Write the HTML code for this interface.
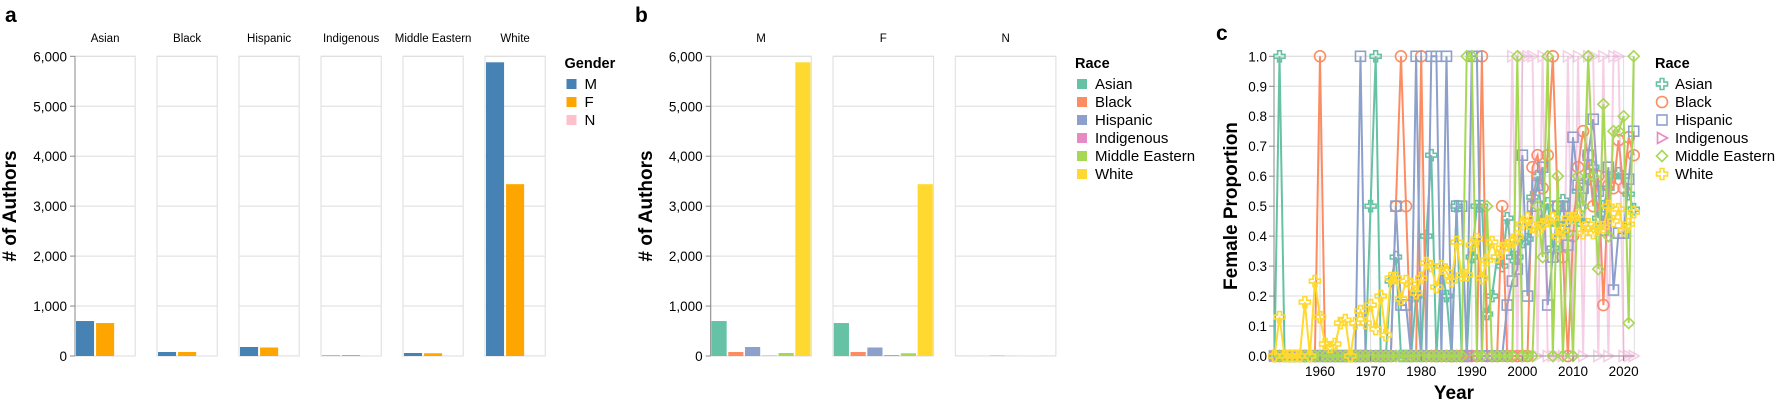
<!DOCTYPE html>
<html><head><meta charset="utf-8"><style>
html,body{margin:0;padding:0;background:#fff;}
svg{display:block;font-family:"Liberation Sans",sans-serif;}
</style></head><body>
<svg id="c" width="1787" height="408"></svg>
<script>
// Panel a data
const aRaces = ["Asian","Black","Hispanic","Indigenous","Middle Eastern","White"];
const aGenders = ["M","F","N"];
const aM = [700,80,180,10,60,5880];
const aF = [660,80,170,20,55,3440];
const aN = [2,2,8,2,2,8];
const countTicks = [0,1000,2000,3000,4000,5000,6000];
const countTickLabels = ["0","1,000","2,000","3,000","4,000","5,000","6,000"];
// Panel b data
const bGenders = ["M","F","N"];
const bAsian = [700,660,2];
const bBlack = [80,80,2];
const bHispanic = [180,170,8];
const bIndigenous = [10,20,2];
const bMiddleEastern = [60,55,2];
const bWhite = [5880,3440,8];
// Panel c data (years 1951..2022)
const cStartYear = 1951;
const cYearTicks = [1960,1970,1980,1990,2000,2010,2020];
const cPropTicks = [0,0.1,0.2,0.3,0.4,0.5,0.6,0.7,0.8,0.9,1.0];
const cAsian = [0,1,0,0,0,0,0,0,0,0, 0,0,0,0,0,0,0,0,0,.5, 1,0,0,.25,.33,0,0,0,.2,0, .4,.67,0,.3,.2,0,.5,0,0,.33, .5,.5,.14,.2,.33,.3,.46,.33,.33,.38, .39,.53,.6,.45,.51,.36,.44,.52,.45,.46, .55,.44,.59,.63,.46,.5,.56,.6,.61,.6, .54,.49];
const cBlack = [0,0,0,0,0,0,0,0,0,1, 0,0,0,0,0,0,0,0,0,0, 0,0,0,0,.5,1,.5,0,0,1, 0,0,0,0,0,0,0,0,0,0, 0,1,0,0,0,.5,0,0,0,0, 0,.63,.67,.56,.67,1,.5,.33,0,.4, .63,.75,.67,.5,.6,.17,.57,.56,.72,.56, .73,.67];
const cHispanic = [0,0,0,0,0,0,0,0,0,0, 0,0,0,0,0,0,0,1,0,0, 0,0,0,0,.5,.17,.17,0,1,0, 0,1,1,0,1,0,.5,.5,0,1, 1,0,0,0,0,0,.17,.25,.29,.67, .2,.5,.57,.63,.17,.33,.5,.5,.37,.73, .57,.56,.67,.79,.55,.42,.63,.22,.41,.41, .59,.75];
const cIndigenous = [0,0,0,0,0,0,0,0,0,0, 0,0,0,0,0,0,0,0,0,0, 0,0,0,0,0,0,0,0,0,0, 0,0,0,0,0,0,0,0,0,0, 0,0,0,0,0,0,0,1,0,1, 1,1,0,1,0,0,0,0,1,0, 1,0,1,1,0,1,0,1,1,0, 0,0];
const cMiddleEastern = [0,0,0,0,0,0,0,0,0,0, 0,0,0,0,0,0,0,0,0,0, 0,0,0,0,0,0,0,0,0,0, 0,0,0,0,0,0,0,0,1,1, 0,0,.5,0,0,0,0,0,1,0, 0,0,.5,.33,1,0,.6,0,.41,0, .6,.5,1,.6,.29,.84,.4,.75,.75,.8, .11,1];
const cWhite = [0,.13,0,0,0,0,.18,0,.25,.13, .04,.03,.04,.11,.12,0,.11,.15,.11,.17, .09,.2,.07,.26,.26,.19,.25,.24,.21,.26, .31,.3,.23,.3,.28,.25,.38,.27,.27,.37, .39,.26,.32,.38,.33,.36,.37,.38,.4,.44, .46,.43,.42,.44,.45,.46,.4,.42,.46,.46, .47,.41,.44,.41,.43,.43,.5,.45,.49,.42, .44,.48];

const NS="http://www.w3.org/2000/svg";
const svg=document.getElementById('c');
function mk(tag,attrs,parent,text){const e=document.createElementNS(NS,tag);for(const k in attrs)e.setAttribute(k,attrs[k]);if(text!==undefined)e.textContent=text;(parent||svg).appendChild(e);return e;}
const raceColors=["#66c2a5","#fc8d62","#8da0cb","#e78ac3","#a6d854","#ffd92f"];
const genderColors=["#4682b4","#ffa500","#ffc0cb"];
const Y0=356, Y1=56.3;
function yCount(v){return Y0-(v/6000)*(Y0-Y1);}

function panelLabel(t,x,y){const e=mk('text',{x:x,y:y,'font-size':21,'font-weight':'bold'},svg,t);

}
function yAxis(x,title,tx,name){
  countTicks.forEach((t,i)=>{const e=mk('text',{x:x-8,y:yCount(t)+5,'font-size':13.5,'text-anchor':'end',fill:'#000'},svg,countTickLabels[i]);
  
  
  mk('line',{x1:x-5,x2:x,y1:yCount(t),y2:yCount(t),stroke:'#888'});});
  const tt=mk('text',{x:tx,y:206,'font-size':19,'font-weight':'bold','text-anchor':'middle',transform:`rotate(-90 ${tx} 206)`},svg,title);
  
  
}
function facetFrame(x,w,title,name){
  const g=mk('g',{});
  
  
  countTicks.forEach(t=>mk('line',{x1:x,x2:x+w,y1:yCount(t),y2:yCount(t),stroke:'#ddd','stroke-width':1},g));
  mk('rect',{x:x,y:Y1,width:w,height:Y0-Y1,fill:'none',stroke:'#ddd','stroke-width':1},g);
  const t=mk('text',{x:x+w/2,y:42,'font-size':11.5,'text-anchor':'middle'},g,title);
  
  
  return g;
}
function legend(x,y,title,labels,colors,name,shape){
  const g=mk('g',{});
  
  
  mk('text',{x:x,y:y,'font-size':14.5,'font-weight':'bold'},g,title);
  labels.forEach((l,i)=>{const cy=y+21+i*18;
    const e=mk('g',{},g);
    
    
    if(shape) shape(i,x+7,cy-5,e); else mk('rect',{x:x+2,y:cy-10,width:10,height:10,fill:colors[i]},e);
    mk('text',{x:x+20,y:cy,'font-size':15},e,l);});
}

// Panel a
panelLabel('a',5,22);
const aX0=75, aW=60.2, aStep=82;
const aSeries=[aM,aF,aN];
aRaces.forEach((r,i)=>{
  const x=aX0+i*aStep;
  const g=facetFrame(x,aW,r,'facet-a-'+r.toLowerCase().replace(/ /g,'-'));
  const bw=aW/3;
  aSeries.forEach((s,j)=>{const y=yCount(s[i]);
    const b=mk('rect',{x:x+j*bw+1,y:y,width:bw-2,height:Y0-y,fill:genderColors[j]},g);
    
    });
});
mk('line',{x1:aX0,x2:aX0,y1:Y1,y2:Y0,stroke:'#888'});
yAxis(aX0,'# of Authors',16,'a-y-axis');
legend(564.5,68,'Gender',aGenders,genderColors,'gender-legend');

// Panel b
panelLabel('b',635,22);
const bX0=710.7,bW=100.6,bStep=122.3;
const bSeries=[bAsian,bBlack,bHispanic,bIndigenous,bMiddleEastern,bWhite];
bGenders.forEach((gname,i)=>{
  const x=bX0+i*bStep;
  const g=facetFrame(x,bW,gname,'facet-b-'+gname);
  const bw=bW/6;
  bSeries.forEach((s,j)=>{const y=yCount(s[i]);
    const b=mk('rect',{x:x+j*bw+0.8,y:y,width:bw-1.6,height:Y0-y,fill:raceColors[j]},g);
    
    });
});
mk('line',{x1:bX0,x2:bX0,y1:Y1,y2:Y0,stroke:'#888'});
yAxis(bX0,'# of Authors',652,'b-y-axis');
legend(1075,68,'Race',aRaces,raceColors,'race-legend-b');

// Panel c
panelLabel('c',1216,40);
const cxL=1274, cxR=1634.3;
function xYear(yr){return 1320+(yr-1960)*5.06;}
function yProp(v){return Y0-v*(Y0-56.3);}
const cg=mk('g',{});


cPropTicks.forEach(t=>mk('line',{x1:cxL,x2:cxR,y1:yProp(t),y2:yProp(t),stroke:'#ddd'},cg));
cYearTicks.forEach(t=>mk('line',{x1:xYear(t),x2:xYear(t),y1:56.3,y2:Y0,stroke:'#ddd'},cg));
mk('rect',{x:cxL,y:56.3,width:cxR-cxL,height:Y0-56.3,fill:'none',stroke:'#ddd'},cg);
mk('line',{x1:cxL,x2:cxL,y1:56.3,y2:Y0,stroke:'#888'},cg);
mk('line',{x1:cxL,x2:cxR,y1:Y0,y2:Y0,stroke:'#888'},cg);
cPropTicks.forEach(t=>{const e=mk('text',{x:cxL-7,y:yProp(t)+5,'font-size':13.5,'text-anchor':'end'},svg,t.toFixed(1));


mk('line',{x1:cxL-5,x2:cxL,y1:yProp(t),y2:yProp(t),stroke:'#888'});});
cYearTicks.forEach(t=>{const e=mk('text',{x:xYear(t),y:376,'font-size':13.5,'text-anchor':'middle'},svg,String(t));


mk('line',{x1:xYear(t),x2:xYear(t),y1:Y0,y2:Y0+5,stroke:'#888'});});
const cyt=mk('text',{x:1237,y:206,'font-size':19,'font-weight':'bold','text-anchor':'middle',transform:'rotate(-90 1237 206)'},svg,'Female Proportion');


const cxt=mk('text',{x:1454,y:399,'font-size':19,'font-weight':'bold','text-anchor':'middle'},svg,'Year');



function shape(i,x,y,parent){
  const c=raceColors[i], r=5.5, a=1.9;
  const att={fill:'none',stroke:c,'stroke-width':1.6};
  if(i===0||i===5){att.d=`M${x-a},${y-r}h${2*a}v${r-a}h${r-a}v${2*a}h${-(r-a)}v${r-a}h${-2*a}v${-(r-a)}h${-(r-a)}v${-2*a}h${r-a}z`;return mk('path',att,parent);}
  if(i===1){att.cx=x;att.cy=y;att.r=r;return mk('circle',att,parent);}
  if(i===2){att.x=x-r+0.5;att.y=y-r+0.5;att.width=2*r-1;att.height=2*r-1;return mk('rect',att,parent);}
  if(i===3){att.d=`M${x+r},${y}L${x-r+1},${y-r}L${x-r+1},${y+r}z`;return mk('path',att,parent);}
  att.d=`M${x},${y-r}L${x+r},${y}L${x},${y+r}L${x-r},${y}z`;return mk('path',att,parent);
}
const cSeries=[cAsian,cBlack,cHispanic,cIndigenous,cMiddleEastern,cWhite];
cSeries.forEach((s,i)=>{
  const g=mk('g',{opacity:i===3?0.4:1},cg);
  
  
  const pts=s.map((v,k)=>xYear(cStartYear+k).toFixed(1)+','+yProp(v).toFixed(1)).join(' ');
  mk('polyline',{points:pts,fill:'none',stroke:raceColors[i],'stroke-width':2},g);
  s.forEach((v,k)=>{const p=shape(i,xYear(cStartYear+k),yProp(v),g);
    
    });
});
legend(1655,68,'Race',aRaces,raceColors,'race-legend-c',shape);
</script>
</body></html>
